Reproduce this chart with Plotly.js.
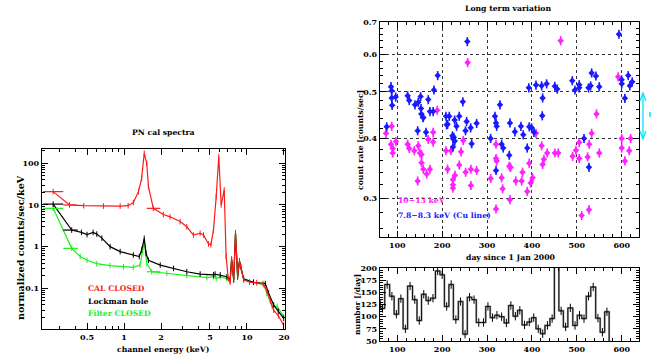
<!DOCTYPE html>
<html><head><meta charset="utf-8">
<script src="https://cdn.plot.ly/plotly-3.0.1.min.js"></script>
<style>html,body{margin:0;padding:0;background:#fff}#chart{width:651px;height:360px}</style>
</head><body><div id="chart"></div>
<script>
// ---------- PN cal spectra (left) ----------
const redE = [0.265,0.36,0.47,0.68,0.93,1.08,1.19,1.31,1.39,1.46,1.53,1.58,1.73,2.09,2.37,2.86,3.24,3.67,4.16,4.43,4.87,5.09,5.34,5.62,5.9,6.17,6.53,6.77,7.05,7.3,7.5,7.8,8.07,8.4,8.7,8.9,9.4,10.5,12,13.5,14.5,15.5,16.5,18,19.9];
const redC = [20.9,10,9.6,9.4,9.4,9.6,11.4,20.9,43.6,174,100,27.5,8.3,5.9,5.2,4.0,3.0,1.9,2.1,1.9,1.16,1.1,2.5,15.8,145,10,22.9,0.58,0.17,0.14,0.5,0.17,2.1,0.2,0.45,0.33,0.16,0.14,0.137,0.13,0.09,0.05,0.03,0.022,0.013];
const blackE = [0.265,0.375,0.45,0.5,0.56,0.6,0.66,0.77,0.93,1.19,1.33,1.39,1.46,1.51,1.58,1.97,2.53,3.24,4.16,5.34,5.5,6.06,6.86,7.3,7.5,7.8,8.07,8.4,8.7,8.9,9.4,11.3,14.1,15,16.5,18,19.9];
const blackC = [10.5,2.5,2.2,1.95,2.2,2.0,1.6,1.0,0.76,0.63,0.58,0.83,1.58,0.69,0.47,0.36,0.3,0.25,0.22,0.21,0.22,0.21,0.19,0.16,0.49,0.16,2.1,0.19,0.45,0.33,0.17,0.14,0.13,0.077,0.04,0.028,0.019];
const greenE = [0.265,0.375,0.44,0.5,0.6,0.77,0.99,1.19,1.35,1.42,1.46,1.49,1.53,1.68,2.23,3.24,4.72,5.34,5.62,6.06,6.86,7.3,7.5,7.8,8.07,8.4,8.7,8.9,9.4,11.3,13.7,14.5,16,17.6,19.9];
const greenC = [8.3,0.91,0.58,0.47,0.39,0.35,0.33,0.32,0.36,0.76,1.3,0.83,0.4,0.25,0.23,0.2,0.18,0.19,0.17,0.19,0.17,0.15,0.49,0.16,2.1,0.19,0.45,0.33,0.16,0.14,0.12,0.077,0.037,0.037,0.021];
// horizontal channel-width bars
const redBarE = [0.265,0.36,1.73], redBarC = [20.9,10,8.3], redBarLo = [0.045,0.04,0.2], redBarHi = [0.055,0.05,0.24];
const blackBarE = [0.265,0.375], blackBarC = [10.5,2.5], blackBarLo = [0.045,0.055], blackBarHi = [0.055,0.045];
const greenBarE = [0.265,0.375,1.68], greenBarC = [8.3,0.91,0.25], greenBarLo = [0.045,0.055,0.15], greenBarHi = [0.055,0.045,0.29];
const specXTicks = [0.5,1,2,5,10,20], specXTickText = ['0.5','1','2','5','10','20'];
const specXMinor = [0.3,0.4,0.6,0.7,0.8,0.9,3,4,6,7,8,9];
const specYTicks = [0.1,1,10,100], specYTickText = ['0.1','1','10','100'];
const specYMinor = [0.02,0.03,0.04,0.05,0.06,0.07,0.08,0.09,0.2,0.3,0.4,0.5,0.6,0.7,0.8,0.9,2,3,4,5,6,7,8,9,20,30,40,50,60,70,80,90,200];

// ---------- Long term variation (right top) ----------
const cuDay = [76.4,86,87.5,87.5,88.5,96.4,123,126.7,139.4,146.8,152,152.8,153.5,157,158,169,172.8,180,181.7,190,145.4,164,208.5,215.8,212,210,223,226,224,228,224,227.8,232,238,246,256,252,254.5,263.5,265.7,276.8,308,317.6,320,321.4,320,328.7,332.5,336,349.5,351,362,375.5,380.6,389.5,393,394,399.3,404.5,409,421.6,423.8,423,432.7,451,456.4,489.8,495.8,505.4,505.4,516,527,526,530.7,533,542.5,550,593.8,599.8,600,607,614.5,618,623.4];
const cuRate = [0.423,0.513,0.503,0.486,0.469,0.488,0.491,0.48,0.47,0.476,0.489,0.462,0.45,0.443,0.442,0.482,0.455,0.455,0.505,0.541,0.415,0.412,0.445,0.445,0.428,0.427,0.405,0.402,0.4,0.395,0.384,0.437,0.424,0.445,0.477,0.637,0.415,0.434,0.421,0.39,0.43,0.4,0.445,0.431,0.424,0.343,0.47,0.389,0.382,0.369,0.431,0.413,0.424,0.407,0.382,0.51,0.423,0.421,0.412,0.517,0.515,0.486,0.446,0.52,0.514,0.507,0.528,0.505,0.51,0.518,0.4,0.348,0.51,0.515,0.548,0.54,0.513,0.66,0.53,0.52,0.485,0.541,0.515,0.525];
const hiDay = [74.8,87.5,86,89.8,89.8,97,123,126.7,137.8,146.8,150.6,154,154,158,145.4,165.5,172.8,169,180,180,189,208.5,212,219.6,224,224,224,228.5,242,247,238,252.3,256.8,264,264,276.8,308,320,320,321.4,320,332.5,334.7,349.5,351,352.5,364,379,377,389.5,394,397,401.5,409,421.6,423.8,426.7,434,451,458.6,464,490.6,498,505.4,505.4,510.7,524,527,527.6,533,543.8,550,592,600,600,607,616.7,619.8];
const hiRate = [0.41,0.424,0.389,0.381,0.373,0.394,0.389,0.381,0.377,0.386,0.373,0.37,0.356,0.345,0.326,0.337,0.345,0.398,0.412,0.393,0.458,0.377,0.345,0.377,0.328,0.32,0.315,0.335,0.375,0.396,0.352,0.34,0.576,0.345,0.319,0.343,0.33,0.389,0.363,0.359,0.285,0.331,0.314,0.35,0.298,0.348,0.326,0.34,0.326,0.31,0.355,0.323,0.331,0.41,0.386,0.353,0.362,0.373,0.373,0.373,0.64,0.367,0.378,0.363,0.392,0.276,0.366,0.284,0.389,0.41,0.45,0.373,0.538,0.4,0.382,0.359,0.377,0.4];
const dayTicks = [100,200,300,400,500,600];
const rateTicks = [0.3,0.4,0.5,0.6,0.7], rateTickText = ['0.3','0.4','0.5','0.6','0.7'];
const rateMinor = [0.26,0.28,0.32,0.34,0.36,0.38,0.42,0.44,0.46,0.48,0.52,0.54,0.56,0.58,0.62,0.64,0.66,0.68];

// ---------- number per day histogram (right bottom) ----------
const histStart = [52,62,72,83,93,103,113,123,134,144,154,164,174,185,195,205,215,225,236,246,256,266,276,287,297,307,317,327,338,348,358,368,378,389,399,409,419,429,440,450,460,470,480,491,501,511,521,531,542,552,562];
const histCount = [133,117,166,142,105,137,75,163,135,92,146,133,138,194,186,121,166,94,131,64,140,135,88,88,121,98,103,100,87,123,101,113,83,89,98,75,65,82,96,210,112,79,118,82,103,96,142,161,97,68,110];
const histEnd = 572;
const histTicks = [50,75,100,125,150,175,200];

// ---------- build ----------
const FONT = 'DejaVu Serif';
const RED = '#ff1a1a', GREEN = '#1cf01c', BLUE = '#1a1aff', MAG = '#ff22ff';
const TS = 7.7;

function specLine(x, y, c) {
  return {x, y, type:'scatter', mode:'lines+markers', xaxis:'x', yaxis:'y',
    line:{color:c, width:1.2}, marker:{symbol:'line-ns-open', size:4, color:c, line:{color:c, width:1}}, hoverinfo:'skip'};
}
function specBars(x, y, lo, hi, c) {
  return {x, y, type:'scatter', mode:'markers', xaxis:'x', yaxis:'y', marker:{size:1, color:c},
    error_x:{type:'data', symmetric:false, array:hi, arrayminus:lo, color:c, thickness:1.2, width:0}, hoverinfo:'skip'};
}
function ratePts(x, y, c) {
  return {x, y, type:'scatter', mode:'markers', xaxis:'x2', yaxis:'y2',
    marker:{symbol:'diamond', size:5, color:c},
    error_y:{type:'percent', value:2.2, color:c, thickness:1.6, width:0},
    error_x:{type:'constant', value:2.5, color:c, thickness:1.6, width:0}, hoverinfo:'skip'};
}

const hx = histStart.concat([histEnd]);
const hy = histCount.concat([0]);
const hCenters = histStart.map((s, i) => (s + (i + 1 < histStart.length ? histStart[i+1] : histEnd)) / 2);

const traces = [
  specLine(greenE, greenC, GREEN),
  specLine(blackE, blackC, '#000'),
  specLine(redE, redC, RED),
  specBars(greenBarE, greenBarC, greenBarLo, greenBarHi, GREEN),
  specBars(blackBarE, blackBarC, blackBarLo, blackBarHi, '#000'),
  specBars(redBarE, redBarC, redBarLo, redBarHi, RED),
  ratePts(hiDay, hiRate, MAG),
  ratePts(cuDay, cuRate, BLUE),
  {x:hx, y:hy, type:'scatter', mode:'lines', line:{shape:'hv', color:'#999', width:2}, xaxis:'x3', yaxis:'y3', hoverinfo:'skip'},
  {x:hx, y:hy, type:'scatter', mode:'lines', line:{shape:'hv', color:'#000', width:0.9}, xaxis:'x3', yaxis:'y3', hoverinfo:'skip'},
  {x:hCenters, y:histCount, type:'scatter', mode:'markers', marker:{symbol:'line-ns-open', size:6, color:'#000', line:{color:'#000', width:1}}, xaxis:'x3', yaxis:'y3', hoverinfo:'skip'}
];

const tickFont = {family:FONT, size:8, color:'#000', weight:'bold'};
const baseAx = {showline:true, linecolor:'#000', linewidth:1.3, mirror:'allticks', ticks:'inside',
  ticklen:6, tickwidth:1, tickcolor:'#000', zeroline:false, showgrid:false, tickfont:tickFont, fixedrange:true, automargin:false};

const px = v => v/651, py = v => 1 - v/360;

function note(text, x, y, opts, color, size) {
  return Object.assign({text, x:px(x), y:py(y), xref:'paper', yref:'paper', showarrow:false,
    xanchor:'center', yanchor:'middle', font:{family:FONT, size:size || TS, weight:'bold', color:color || '#000'}}, opts || {});
}

const layout = {
  width:651, height:360, margin:{l:0, r:0, t:0, b:0}, showlegend:false,
  paper_bgcolor:'#fff', plot_bgcolor:'#fff', font:{family:FONT, size:8, color:'#000'},
  xaxis: Object.assign({}, baseAx, {type:'log', domain:[px(42), px(285)], anchor:'y',
    range:[Math.log10(0.215), Math.log10(20.4)], tickmode:'array', tickvals:specXTicks, ticktext:specXTickText,
    minor:{tickmode:'array', tickvals:specXMinor, ticks:'inside', ticklen:3, tickcolor:'#000'}}),
  yaxis: Object.assign({}, baseAx, {type:'log', domain:[py(329), py(149)], anchor:'x',
    range:[-1.976, 2.343], tickmode:'array', tickvals:specYTicks, ticktext:specYTickText,
    minor:{tickmode:'array', tickvals:specYMinor, ticks:'inside', ticklen:3, tickcolor:'#000'}}),
  xaxis2: Object.assign({}, baseAx, {domain:[px(380), px(639)], anchor:'y2', range:[61.5, 638.5],
    tickmode:'array', tickvals:dayTicks, showgrid:true, gridcolor:'#333', griddash:'dot', gridwidth:1,
    minor:{dtick:20, tick0:0, ticks:'inside', ticklen:3, tickcolor:'#000', showgrid:false}}),
  yaxis2: Object.assign({}, baseAx, {type:'log', domain:[py(237), py(22)], anchor:'x2',
    range:[Math.log10(0.249), Math.log10(0.7)], tickmode:'array', tickvals:rateTicks, ticktext:rateTickText,
    showgrid:true, gridcolor:'#333', griddash:'dot', gridwidth:1,
    minor:{tickmode:'array', tickvals:rateMinor, ticks:'inside', ticklen:3, tickcolor:'#000', showgrid:false}}),
  xaxis3: Object.assign({}, baseAx, {domain:[px(380), px(639)], anchor:'y3', range:[61.5, 638.5],
    tickmode:'array', tickvals:dayTicks,
    minor:{dtick:20, tick0:0, ticks:'inside', ticklen:3, tickcolor:'#000'}}),
  yaxis3: Object.assign({}, baseAx, {domain:[py(341), py(268)], anchor:'x3', range:[50, 200],
    tickmode:'array', tickvals:histTicks,
    minor:{dtick:5, tick0:0, ticks:'inside', ticklen:3, tickcolor:'#000'}}),
  annotations: [
    note('PN cal spectra', 163, 132),
    note('channel energy (keV)', 163, 349),
    note('normalized counts/sec/keV', 20, 248, {textangle:-90}, '#000', 9.6),
    note('CAL CLOSED', 86, 288, {xanchor:'left'}, RED),
    note('Lockman hole', 86, 301, {xanchor:'left'}),
    note('Filter CLOSED', 86, 313, {xanchor:'left'}, GREEN),
    note('Long term variation', 508, 8),
    note('day since 1 Jan 2000', 510, 257),
    note('count rate [counts/sec]', 361, 140, {textangle:-90}),
    note('10\u221213 keV', 396, 200, {xanchor:'left'}, MAG),
    note('7.8\u22128.3 keV (Cu line)', 396, 215, {xanchor:'left'}, BLUE),
    note('number [/day]', 357, 305, {textangle:-90})
  ],
  shapes: [
    {type:'line', xref:'paper', yref:'paper', x0:px(643), x1:px(643), y0:py(93), y1:py(139), line:{color:'#00e5ff', width:1.3}},
    {type:'path', xref:'paper', yref:'paper', path:`M ${px(640)} ${py(101)} L ${px(643)} ${py(93)} L ${px(646)} ${py(101)}`, line:{color:'#00e5ff', width:1.3}},
    {type:'path', xref:'paper', yref:'paper', path:`M ${px(640)} ${py(131)} L ${px(643)} ${py(139)} L ${px(646)} ${py(131)}`, line:{color:'#00e5ff', width:1.3}},
    {type:'line', xref:'paper', yref:'paper', x0:px(650), x1:px(650), y0:py(112), y1:py(117), line:{color:'#00e5ff', width:1.5}}
  ]
};

Plotly.newPlot('chart', traces, layout, {staticPlot:true, displayModeBar:false});
</script></body></html>
